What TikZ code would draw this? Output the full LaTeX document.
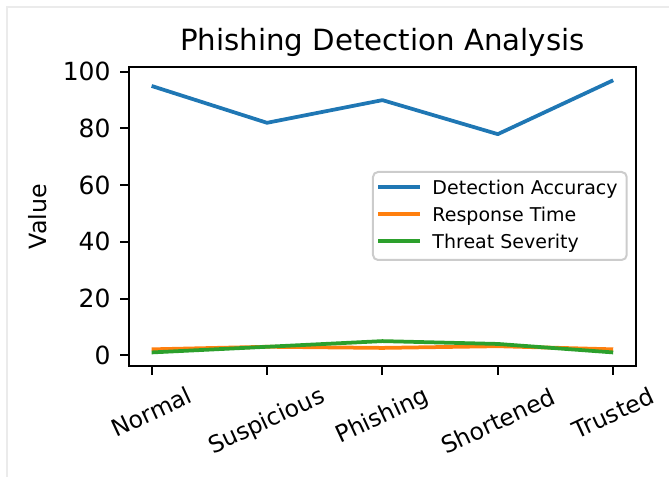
\documentclass[tikz,border=0pt]{standalone}
\usepackage{fontspec}
\setmainfont{DejaVu Sans}
\definecolor{tabblue}{HTML}{1F77B4}
\definecolor{taborange}{HTML}{FF7F0E}
\definecolor{tabgreen}{HTML}{2CA02C}
\definecolor{framegray}{HTML}{EBEBEB}
\definecolor{legendgray}{HTML}{CCCCCC}
\begin{document}
\begin{tikzpicture}[x=0.4pt,y=0.4pt,
  series/.style={line width=1.5pt,line join=round},
  axisline/.style={line width=0.8pt},
  ticklab/.style={inner sep=0pt,font=\fontsize{10}{12}\selectfont},
  catlab/.style={inner sep=0pt,rotate=25,font=\fontsize{9.4}{11}\selectfont},
  leglab/.style={inner sep=0pt,anchor=base west,font=\fontsize{7.6}{9}\selectfont}]
\useasboundingbox (0,0) rectangle (669,477);
% edge of the screenshot
\draw[framegray,line width=0.8pt] (7,0) -- (7,469.5) -- (669,469.5);
\node[font=\fontsize{11.7}{14}\selectfont,anchor=base] (title) at (382.4,426.3) {Phishing Detection Analysis};
\node[font=\fontsize{9.5}{11}\selectfont,rotate=90] (ylab) at (38,260.3) {Value};
% data area
\begin{scope}[shift={(60.64pt,48.68pt)},x=46.16pt,y=1.134pt]
\draw[tabblue,series] plot coordinates {(0,95) (1,82) (2,90) (3,78) (4,97)};
\draw[taborange,series] plot coordinates {(0,2.1) (1,3.0) (2,2.6) (3,3.2) (4,2.1)};
\draw[tabgreen,series] plot coordinates {(0,1) (1,3) (2,5) (3,4) (4,1)};
\draw[axisline] (-0.2,-3.8) rectangle (4.2,101.8);
\foreach \v in {0,20,...,100} {
  \draw[axisline] (-0.2,\v) -- ++(-3.5pt,0pt);
  \node[ticklab,anchor=east] (y\v) at ([xshift=-7pt]-0.2,\v) {\v};
}
\foreach \i in {0,...,4} {
  \draw[axisline] (\i,-3.8) -- ++(0pt,-3.5pt);
}
\end{scope}
\foreach \x/\y/\lab in {151.6/65/Normal, 267.0/55/Suspicious, 382.4/60.5/Phishing,
                        497.8/56/Shortened, 613.2/64/Trusted} {
  \node[catlab] (x\lab) at (\x,\y) {\lab};
}
% legend
\draw[legendgray,fill=white,rounded corners=2pt,line width=0.8pt] (373,217) rectangle (626.7,305);
\foreach \c/\yl/\yt/\lab/\nm in {tabblue/290.3/282/Detection Accuracy/acc,
                                taborange/263/255.3/Response Time/resp,
                                tabgreen/236.3/228.7/Threat Severity/sev} {
  \draw[\c,series] (378.5,\yl) -- (420,\yl);
  \node[leglab] (leg\nm) at (432,\yt) {\lab};
}
\end{tikzpicture}
\end{document}
